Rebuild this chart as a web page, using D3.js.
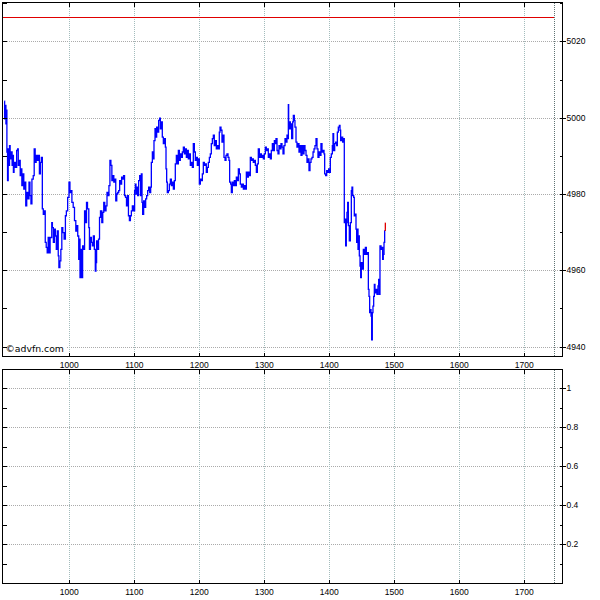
<!DOCTYPE html>
<html><head><meta charset="utf-8">
<script src="https://cdn.jsdelivr.net/npm/d3@7"></script>
<style>body{margin:0;background:#fff}svg{display:block}</style>
</head><body><svg id="c" width="600" height="600"></svg>
<script>
// ---- data ----
const times = [900,900.5,901.5,902.5,903,904,905,906,907,908,909,910,912,913,914,915,917,919,920.5,921.5,923,924.5,926,927,929,930,931,933,934.5,936,938,939.5,941,942.5,944.5,946,947.5,949,951,952.5,954,955.5,957,958.5,960,961.5,963,964.5,966,967.5,969,970.5,973,974,975.5,977,978.5,980,981.5,983,984,985.5,987,988.5,990,992,994,995.5,997.5,999.5,1001,1002.5,1004,1006,1008,1010,1011.5,1013,1014.5,1015.5,1016.5,1018,1019.5,1020.5,1022,1023.5,1025,1026.5,1028,1030,1031,1032.5,1034,1035.5,1037,1038.5,1040,1041,1042,1043.5,1045,1046.5,1048,1050,1051.5,1053,1054.5,1056.5,1058,1059.5,1061,1062.5,1064,1065.5,1067,1068.5,1070,1071.5,1073,1074.5,1076,1077.5,1079,1080.5,1082,1083.5,1085,1086.5,1088,1089.5,1091,1092.5,1094,1095.5,1097,1099,1100.5,
1101.6,1102.6,1103.7,1105.2,1106.7,1108.3,1109.8,1110.8,1111.9,1112.9,1114.4,1116,1117.5,1119,1120.6,1122.1,1123.7,1125.2,1126.2,1127.8,1128.8,1130.3,1131.9,1132.9,1134.4,1136,1137.5,1139,1140.1,1141.6,1143.1,1144.7,1146.2,1147.8,1148.8,1149.8,1150.8,1152.4,1153.9,1155.5,1157,1158.5,1160.1,1161.6,1163.1,1164.7,1166.2,1167.8,1169.3,1170.8,1172.4,1173.9,1175.5,1177,1178.5,1180.1,1181.6,1183.1,1184.7,1186.2,1187.8,1189.3,1190.8,1192.4,1193.9,1195.5,1197,1198.5,1200.1,1201.6,1203.1,1204.7,1206.2,1207.8,1209.3,1210.8,1212.4,1213.9,1215.5,1217,1218.5,1220.1,1221.6,1223.1,1224.7,1226.2,1227.8,1229.3,1230.8,1231.9,1233.4,1234.9,1236.5,1238,1239.6,1241.1,1242.6,1244.2,1245.7,1246.7,1248.3,1249.3,1250.8,1252.4,1253.9,1255.5,1257,1258.5,1260.1,1261.6,1263.1,1264.7,1266.2,1267.8,1269.3,1270.8,1272.4,1273.9,1275.5,1277,1278.5,1280.1,1281.6,1283.1,1284.7,1286.2,1287.8,1289.3,1290.8,1292.4,1293.9,1295.5,1297.5,
1298.5,1300,1301.6,1303.1,1304.7,1306.2,1307.8,1309.3,1310.8,1312.4,1313.9,1315.5,1317,1318,1319.6,1321.1,1322.6,1324.2,1325.7,1327.2,1328.8,1330.3,1331.9,1333.4,1334.9,1336,1337,1337.5,1338.5,1340.1,1341.1,1342.1,1343.7,1344.7,1346.2,1347.2,1348.8,1350.3,1351.9,1353.4,1354.9,1356.5,1358,1359.6,1361.1,1362.6,1364.2,1365.7,1367.2,1368.8,1370.3,1371.9,1373.4,1375,1376.5,1378,1379.6,1381.1,1382.6,1384.2,1385.7,1387.2,1388.8,1390.3,1391.9,1392.9,1394.4,1396,1397.5,1399,1400.1,1401.6,1403.1,1404.7,1405.7,1406.7,1408.3,1409.8,1411.4,1412.4,1413.9,1415.5,1416.5,1417.5,1419,1420.6,1422.1,1423.1,1424.2,1425.2,1426.2,1427.2,1428.3,1429.3,1430.8,1432.4,1433.9,1434.9,1436,1437.5,1438.5,1440.1,1441.1,1442.1,1443.1,1444.2,1445.2,1446.2,1447.3,1448.3,1449.3,1450.8,1452.4,1453.9,1455.5,1457,1458.5,1460.1,1461.1,1462.1,1463.2,1464.2,1465.2,1466.2,1467.2,1468.3,1469.3,1470.3,1471.9,1473.4,1474.9,1476,1477,1478,1479.6,1481.1,1482.1,1483.1,1484.2,1485.2,1486.2,1486.3];
const prices = [5004.3,4999.7,5003.2,4998.4,5002,4991,4983.5,4991.8,4987.5,4992.7,4989.2,4991,4987.5,4990.1,4985.7,4988.3,4987,4991.4,4991.8,4987.5,4988.8,4984.8,4986.6,4982.2,4985.3,4981.3,4983.1,4976.9,4980.4,4978.7,4983.1,4979.6,4977.4,4983.9,4984.8,4991.8,4988.3,4990.1,4988.8,4990.1,4985.3,4988.3,4989.6,4976.1,4974.7,4975.6,4967.3,4966,4964.6,4968.6,4964.6,4968.6,4972.5,4971.2,4967.3,4970.8,4969,4965.5,4970.3,4963.8,4960.7,4962.5,4965.5,4971.2,4969.9,4968.2,4974.3,4975.6,4979.1,4983.1,4980.4,4980.9,4977.8,4976.5,4973,4970.3,4971.7,4969,4962.9,4968.2,4958.1,4965.5,4958.1,4966.4,4965.5,4975.6,4972.5,4977.8,4976.1,4971.2,4965.5,4968.6,4967.3,4966.4,4969,4965.5,4959.8,4962,4967.7,4965.5,4968.2,4973.9,4975.6,4972.5,4975.2,4977.8,4975.6,4976.9,4980.4,4979.6,4982.2,4988.8,4987.5,4983.5,4984.8,4983.1,4983.9,4978.2,4980,4980.4,4980.9,4983.5,4982.6,4984.4,4983.9,4984.8,4979.6,4979.1,4976.9,4979.6,4974.3,4973,4974.3,4975.6,4976.9,4975.6,4980.9,
4982.6,4980,4981.8,4979.6,4983.5,4984.8,4979.6,4985.3,4977.8,4974.7,4978.2,4976.5,4978.7,4979.6,4980.9,4981.8,4980.4,4981.8,4988.3,4991,4989.2,4994,4997.1,4994.9,4997.5,4996.2,4999.3,4999.9,4997.1,4998.9,4994.9,4993.2,4994.5,4992.3,4986.6,4983.1,4980.4,4980.9,4982.6,4983.9,4982.2,4983.1,4981.3,4983.5,4987.9,4990.1,4987.9,4991.4,4988.8,4990.5,4989.6,4991,4992.3,4990.5,4991.8,4989.6,4991.4,4989.2,4990.5,4987.5,4988.3,4987,4993.2,4991,4988.8,4989.6,4987.5,4989.2,4982.6,4983.9,4983.5,4985.3,4988.3,4987.5,4987.9,4985.7,4987,4988.3,4989.6,4990.5,4993.2,4994.5,4995.4,4992.7,4994,4991.8,4992.7,4991.8,4996.2,4997.5,4996.7,4993.6,4995.4,4989.6,4988.8,4990.1,4990.5,4989.6,4988.8,4983.1,4982.6,4980.4,4983.1,4982.2,4983.5,4982.2,4984.4,4983.5,4986.6,4985.3,4982.6,4981.8,4982.6,4981.3,4982.2,4981.3,4985.7,4984.4,4985.7,4984.8,4989.6,4988.8,4989.2,4988.3,4988.8,4987.5,4985.7,4987.9,4991.8,4989.6,4990.5,4989.6,4990.1,
4989.2,4990.5,4992.3,4991.4,4991.8,4989.6,4990.5,4989.2,4991.4,4993.2,4991.4,4994,4993.2,4994.5,4991.4,4990.5,4992.7,4991.8,4993.2,4992.3,4990.5,4992.7,4994.5,4993.6,4995.4,4994.5,5003.4,4997.1,4998.9,4997.1,4998.4,4994.5,4998.9,5000.6,4999.3,4997.5,4993.6,4992.3,4993.2,4991,4992.7,4990.1,4992.7,4990.5,4992.7,4991.4,4990.1,4988.3,4989.2,4986.1,4988.3,4989.2,4989.6,4991,4991.8,4992.7,4994.5,4991.8,4989.6,4991,4990.1,4993.2,4991,4991.4,4990.5,4985.3,4984.8,4986.1,4985.7,4986.6,4985.7,4989.6,4990.5,4992.7,4995.8,4991.4,4993.2,4993.6,4992.7,4996.2,4997.5,4998,4996.7,4994,4994.9,4993.6,4994.5,4972.5,4973.4,4966.4,4972.5,4975.2,4977.8,4971.7,4967.7,4972.5,4980.9,4981.8,4979.6,4979.1,4974.3,4974.7,4970.8,4967.3,4970.8,4965.5,4969,4963.8,4961.1,4958.1,4962,4960.3,4965.5,4964.2,4966,4964.2,4964.6,4955,4953.2,4948.9,4949.7,4948,4941.8,4948.9,4950.6,4953.2,4956.3,4954.1,4955,4953.7,4955.9,4957.6,4953.7,4966.4,4965.5,4966,4962.9,4964.2,4967.3,4970.3,4970.3,4972.5];
const referenceLevel = 5026.4;
const currentTime = 1745.7;
const timeTicks = [1000,1100,1200,1300,1400,1500,1600,1700];
const priceTicks = [4940,4960,4980,5000,5020];
const priceMinorTicks = [4940,4950,4960,4970,4980,4990,5000,5010,5020,5030];
const lowerTicks = [0.2,0.4,0.6,0.8,1];
const lowerTickLabels = ["0.2","0.4","0.6","0.8","1"];
const lowerMinorTicks = [0.1,0.2,0.3,0.4,0.5,0.6,0.7,0.8,0.9,1.0];
const watermark = "\u00a9advfn.com";

// ---- layout ----
const L = 3, R = 562.3;
const top1 = 3, bot1 = 356, top2 = 370.3, bot2 = 583;
const svg = d3.select("#c");
const x = d3.scaleLinear().domain([898, 1758.5]).range([L, R]);
const y = d3.scaleLinear().domain([4937.55, 5030.05]).range([bot1, top1]);
const y2 = d3.scaleLinear().domain([0, 1.0908]).range([bot2, top2]);
const px = v => Math.round(v) + 0.5;
const font = "'Liberation Sans', Arial, sans-serif";
const gH = "#ababab", gV = "#a3bcbc";

function panel(yScale, top, bot, majors) {
  const g = svg.append("g").attr("shape-rendering", "crispEdges");
  g.selectAll(null).data(majors).join("line")
    .attr("x1", L).attr("x2", R).attr("y1", d => px(yScale(d))).attr("y2", d => px(yScale(d)))
    .attr("stroke", gH).attr("stroke-dasharray", "1,1");
  g.selectAll(null).data(timeTicks).join("line")
    .attr("x1", d => px(x(d))).attr("x2", d => px(x(d))).attr("y1", top).attr("y2", bot)
    .attr("stroke", gV).attr("stroke-dasharray", "1,1");
  g.append("line").attr("x1", px(x(currentTime))).attr("x2", px(x(currentTime)))
    .attr("y1", top).attr("y2", bot).attr("stroke", "#5f7373").attr("stroke-dasharray", "1,1");
  return g;
}
function frame(yScale, top, bot, majors, minors, labels) {
  const g = svg.append("g").attr("shape-rendering", "crispEdges");
  g.append("rect").attr("x", px(L) - 1).attr("y", px(top) - 1).attr("width", px(R) - px(L) + 1)
    .attr("height", px(bot) - px(top) + 1).attr("fill", "none").attr("stroke", "#000");
  g.selectAll(null).data(minors).join("line")
    .attr("x1", px(L) - 1).attr("x2", px(L) + 3).attr("y1", d => px(yScale(d))).attr("y2", d => px(yScale(d)))
    .attr("stroke", "#000");
  g.selectAll(null).data(minors).join("line")
    .attr("x1", px(R) - 3).attr("x2", px(R)).attr("y1", d => px(yScale(d))).attr("y2", d => px(yScale(d)))
    .attr("stroke", "#000");
  g.selectAll(null).data(majors).join("line")
    .attr("x1", px(R)).attr("x2", px(R) + 3).attr("y1", d => px(yScale(d))).attr("y2", d => px(yScale(d)))
    .attr("stroke", "#000");
  g.selectAll(null).data(timeTicks).join("line")
    .attr("x1", d => px(x(d))).attr("x2", d => px(x(d))).attr("y1", px(bot) - 4).attr("y2", px(bot))
    .attr("stroke", "#000");
  g.selectAll(null).data(timeTicks).join("line")
    .attr("x1", d => px(x(d))).attr("x2", d => px(x(d))).attr("y1", px(top) - 1).attr("y2", px(top) + 3)
    .attr("stroke", "#000");
  svg.append("g").selectAll(null).data(majors).join("text")
    .attr("x", px(R) + 4).attr("y", d => yScale(d) + 3)
    .attr("font-family", font).attr("font-size", "8.5px").attr("fill", "#000")
    .text((d, i) => labels ? labels[i] : d);
  svg.append("g").selectAll(null).data(timeTicks).join("text")
    .attr("x", d => x(d)).attr("y", bot + 12).attr("text-anchor", "middle")
    .attr("font-family", font).attr("font-size", "8.5px").attr("fill", "#000")
    .text(d => d);
}

panel(y, top1, bot1, priceTicks);
panel(y2, top2, bot2, lowerTicks);

svg.append("rect").attr("x", L + 1).attr("y", 341).attr("width", 63).attr("height", 12).attr("fill", "#fff");
svg.append("text").attr("x", 5.5).attr("y", 351.5).attr("font-family", "'DejaVu Sans', Verdana, sans-serif")
  .attr("font-size", "9.3px").attr("fill", "#000").text(watermark);

svg.append("line").attr("x1", L).attr("x2", x(currentTime)).attr("y1", px(y(referenceLevel))).attr("y2", px(y(referenceLevel)))
  .attr("stroke", "#e00000").attr("shape-rendering", "crispEdges");

const pts = times.map((t, i) => ({t, v: prices[i]}));
const line = d3.line().x(d => x(d.t)).y(d => y(d.v)).curve(d3.curveStepAfter);
svg.append("path").attr("d", line(pts.slice(0, pts.length - 1))).attr("fill", "none")
  .attr("stroke", "#0000ff").attr("stroke-width", 1.3);
svg.append("path").attr("d", d3.line().x(d => x(d.t)).y(d => y(d.v))(pts.slice(pts.length - 2))).attr("fill", "none")
  .attr("stroke", "#e00000").attr("stroke-width", 1.3);

frame(y, top1, bot1, priceTicks, priceMinorTicks);
frame(y2, top2, bot2, lowerTicks, lowerMinorTicks, lowerTickLabels);
</script></body></html>
